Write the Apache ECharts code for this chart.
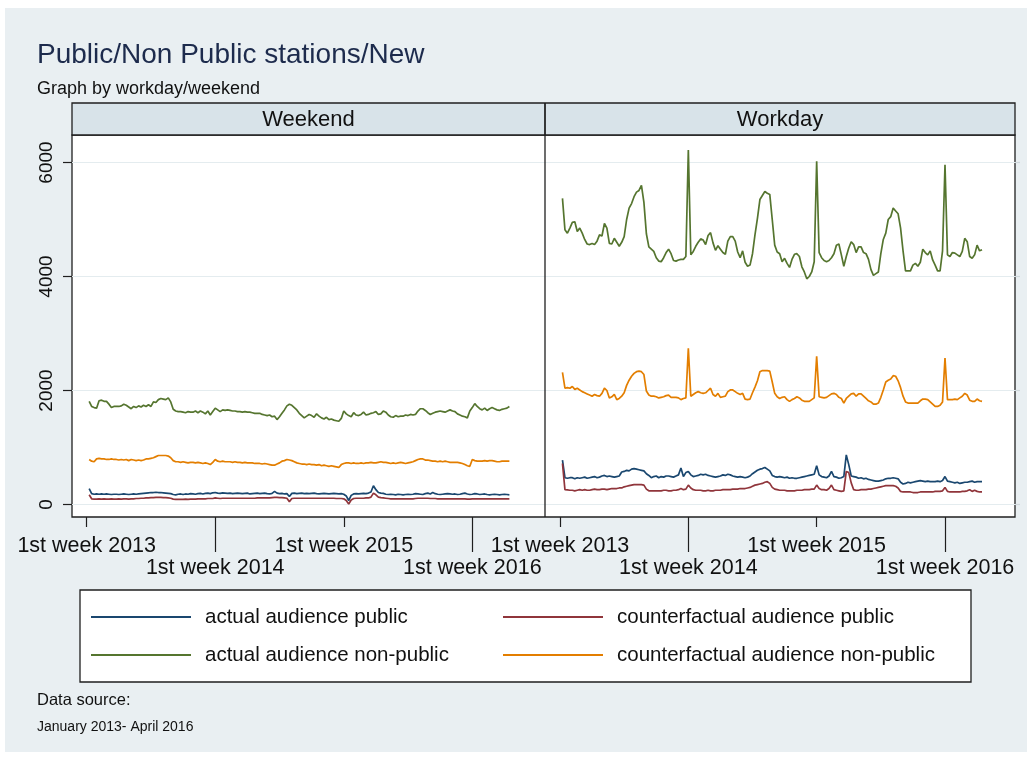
<!DOCTYPE html>
<html>
<head>
<meta charset="utf-8">
<title>Public/Non Public stations/New</title>
<script src="https://cdn.jsdelivr.net/npm/echarts@6/dist/echarts.min.js"></script>
<style>
  html, body { margin: 0; padding: 0; background: #ffffff; }
  #chart { width: 1032px; height: 757px; }
</style>
</head>
<body>
<div id="chart"></div>
<script>
// ---- data -------------------------------------------------------------
const seriesNames = [
  'actual audience public',
  'counterfactual audience public',
  'actual audience non-public',
  'counterfactual audience non-public'
];
const panelNames = ['Weekend', 'Workday'];
const tickWeeks = [0, 52, 104, 156];
const tickLabels = ['1st week 2013', '1st week 2014', '1st week 2015', '1st week 2016'];
const yTicks = [0, 2000, 4000, 6000];
const firstWeek = 1; // weeks counted from 1st week 2013 = 0

// Weekend panel
const weekendActualPublic = [
  280,190,180,185,180,185,180,185,180,175,
  180,180,175,180,185,180,175,180,185,180,
  185,190,195,200,205,210,210,215,210,210,
  205,200,195,190,175,170,180,185,175,185,
  180,190,185,180,190,195,185,195,200,190,
  205,210,200,195,205,200,195,200,190,195,
  200,195,190,195,200,185,190,195,200,190,
  195,200,190,185,195,230,200,190,195,185,
  190,140,195,200,190,195,200,190,195,190,
  195,200,190,185,190,195,190,185,190,195,
  190,185,190,180,150,70,160,185,190,185,
  190,195,190,200,220,330,260,210,200,195,
  180,175,180,175,170,180,175,170,175,180,
  175,180,190,185,180,175,190,200,185,210,
  190,180,175,180,185,190,185,180,185,175,
  180,190,200,185,175,180,190,185,175,180,
  185,175,170,175,180,175,170,175,180,175,
  170
];
const weekendCfPublic = [
  170,100,95,95,100,95,100,95,95,100,
  95,95,100,95,100,100,95,100,100,105,
  105,110,110,115,115,120,120,125,125,125,
  120,120,115,110,95,90,90,90,90,95,
  90,95,95,95,100,100,100,100,105,105,
  105,115,110,105,110,110,110,110,110,110,
  110,110,110,110,110,110,110,110,115,115,
  115,115,115,115,120,125,125,120,120,115,
  110,50,105,110,110,110,110,110,110,110,
  110,110,110,110,110,110,110,110,110,110,
  105,105,105,100,70,10,80,105,110,110,
  110,110,115,115,130,200,170,130,120,115,
  110,105,100,100,100,100,100,100,100,100,
  100,100,105,110,110,110,110,110,105,105,
  105,100,100,100,100,100,100,100,100,100,
  100,100,100,95,95,100,100,100,100,100,
  100,100,100,100,100,100,100,100,100,100,
  100
];
const weekendActualNonPublic = [
  1810,1720,1700,1690,1820,1830,1810,1810,1760,1700,
  1720,1720,1720,1730,1760,1740,1710,1680,1720,1700,
  1730,1710,1740,1720,1750,1720,1800,1790,1840,1860,
  1850,1840,1870,1800,1670,1640,1630,1630,1620,1610,
  1630,1620,1620,1640,1610,1640,1620,1590,1640,1570,
  1630,1690,1660,1630,1660,1650,1660,1650,1640,1640,
  1630,1630,1620,1630,1620,1620,1610,1600,1600,1600,
  1580,1570,1560,1570,1540,1550,1490,1540,1600,1660,
  1730,1760,1740,1700,1660,1600,1560,1520,1550,1580,
  1560,1530,1590,1550,1520,1500,1530,1490,1500,1480,
  1470,1460,1510,1640,1590,1560,1540,1610,1570,1560,
  1580,1620,1570,1580,1600,1610,1630,1580,1590,1640,
  1620,1570,1540,1530,1560,1540,1550,1550,1570,1560,
  1580,1570,1580,1640,1680,1680,1650,1610,1580,1600,
  1620,1630,1640,1630,1620,1640,1660,1640,1630,1590,
  1570,1550,1540,1520,1640,1700,1770,1720,1680,1660,
  1690,1650,1680,1700,1680,1660,1650,1670,1680,1690,
  1720
];
const weekendCfNonPublic = [
  790,760,750,800,810,800,800,790,790,800,
  790,790,780,790,780,790,770,790,780,770,
  780,770,780,800,800,810,820,840,860,860,
  860,860,850,820,770,750,750,740,750,740,
  730,740,740,730,740,730,720,730,720,700,
  740,790,760,750,760,750,750,750,740,750,
  740,740,730,740,730,730,730,720,720,720,
  710,720,710,700,690,690,710,730,760,770,
  790,780,770,750,730,720,710,710,700,710,
  700,700,690,700,680,690,680,670,680,670,
  660,650,700,720,730,730,720,730,720,720,
  730,720,730,730,740,730,730,740,750,740,
  740,730,720,730,720,730,740,730,720,730,
  740,750,770,790,800,800,780,780,770,760,
  760,750,760,750,760,750,740,740,740,740,
  730,720,700,680,670,790,770,760,760,760,
  770,760,770,770,760,750,750,760,760,760,
  760
];

// Workday panel
const workdayActualPublic = [
  780,470,460,470,470,450,470,460,470,480,
  460,470,480,490,470,480,500,510,490,500,
  490,480,490,500,570,580,600,590,620,630,
  620,610,600,590,540,510,470,490,500,470,
  490,480,500,500,490,480,500,520,640,490,
  560,580,520,490,500,510,530,520,530,510,
  500,490,480,490,500,520,510,530,520,500,
  490,480,490,480,470,480,500,540,570,600,
  620,630,650,620,590,510,490,480,490,480,
  470,480,460,470,460,460,470,480,490,500,
  510,520,530,680,520,490,480,470,500,580,
  490,480,460,470,490,870,700,500,490,480,
  460,470,450,460,440,430,420,410,410,420,
  430,450,460,460,470,460,450,390,360,370,
  390,380,390,400,410,420,410,400,410,400,
  400,400,410,400,420,490,410,400,390,380,
  390,370,380,390,390,400,410,390,400,400,
  400
];
const workdayCfPublic = [
  720,260,255,250,250,240,250,260,250,260,
  250,250,260,270,260,260,270,270,260,270,
  280,280,280,290,290,310,320,330,340,350,
  350,350,350,340,270,240,240,240,240,240,
  240,250,250,240,240,250,250,260,280,260,
  270,340,290,260,250,250,250,240,240,250,
  240,240,250,250,250,260,260,260,260,270,
  270,270,280,280,280,290,300,320,340,350,
  360,370,390,400,370,300,270,260,250,250,
  250,240,240,240,240,250,250,250,260,260,
  260,270,270,340,280,260,260,250,280,340,
  260,250,240,230,240,580,560,380,260,250,
  250,260,260,260,270,270,280,290,300,310,
  320,330,330,330,330,320,290,230,220,220,
  220,220,210,210,210,220,220,220,220,220,
  220,230,230,230,240,300,230,220,220,220,
  220,220,230,230,240,260,230,250,230,220,
  220
];
const workdayActualNonPublic = [
  5370,4820,4760,4850,4950,4960,4790,4850,4760,4650,
  4570,4560,4580,4560,4620,4730,4710,4930,4850,4580,
  4570,4670,4600,4530,4600,4700,5000,5200,5280,5400,
  5480,5510,5600,5300,4750,4520,4480,4440,4330,4270,
  4260,4330,4420,4480,4400,4280,4270,4290,4300,4300,
  4350,6220,4380,4440,4530,4600,4660,4640,4560,4720,
  4770,4590,4460,4540,4480,4420,4390,4620,4700,4700,
  4620,4430,4330,4450,4250,4180,4200,4400,4730,5020,
  5350,5420,5490,5460,5440,5000,4550,4430,4400,4260,
  4320,4230,4160,4300,4390,4400,4350,4170,4080,3960,
  4000,4080,4260,6020,4420,4330,4280,4260,4280,4330,
  4400,4550,4570,4380,4180,4350,4500,4610,4560,4420,
  4520,4520,4420,4400,4300,4120,4020,4050,4080,4400,
  4650,4760,5000,5050,5200,5150,5100,4850,4450,4100,
  4100,4100,4200,4230,4180,4250,4480,4420,4380,4450,
  4290,4200,4100,4100,4450,5960,4380,4350,4420,4410,
  4380,4350,4440,4670,4610,4350,4320,4380,4550,4450,
  4470
];
const workdayCfNonPublic = [
  2320,2040,2050,2040,2070,2020,2040,2010,1980,1960,
  1940,1920,1900,1930,1910,1900,1950,2040,2000,1870,
  1890,1930,1840,1860,1900,1960,2090,2180,2250,2300,
  2330,2340,2330,2280,1990,1920,1900,1900,1890,1870,
  1880,1890,1910,1920,1880,1880,1880,1870,1840,1860,
  1870,2740,1900,1930,1960,1980,1960,1950,1960,2000,
  2040,1930,1900,1950,1880,1890,1900,1980,2010,2010,
  1980,1950,1930,1950,1850,1840,1850,1960,2060,2170,
  2330,2350,2350,2350,2340,2150,1950,1890,1860,1880,
  1890,1840,1810,1840,1860,1890,1870,1830,1810,1810,
  1810,1840,1870,2600,1890,1880,1870,1880,1910,1940,
  1950,1930,1880,1860,1780,1860,1900,1940,1950,1900,
  1940,1940,1900,1860,1820,1800,1760,1760,1780,1880,
  2010,2150,2180,2200,2260,2250,2170,2050,1900,1800,
  1780,1780,1780,1780,1780,1820,1850,1850,1840,1800,
  1760,1720,1720,1740,1800,2570,1840,1840,1840,1850,
  1840,1870,1900,1950,1920,1830,1810,1810,1850,1820,
  1810
];

const panelSeries = [
  [weekendActualPublic, weekendCfPublic, weekendActualNonPublic, weekendCfNonPublic],
  [workdayActualPublic, workdayCfPublic, workdayActualNonPublic, workdayCfNonPublic]
];

// ---- styling / layout ---------------------------------------------------
const FONT = '"Liberation Sans", Arial, Helvetica, sans-serif';
const lineColors = ['#1a476f', '#90353b', '#55752f', '#e37e00'];
const INK = '#111111';
const FRAME = '#1f1f1f';

// pixel geometry of the two panels (plot frame + first/last labelled tick)
const panels = [
  { x0: 72,  x1: 545,  tickA: 86.7, tickB: 472.3 },
  { x0: 545, x1: 1015, tickA: 560,  tickB: 945 }
];
const frameTop = 135, frameBottom = 517;
const stripTop = 103;
const zeroY = 504.5, topTickY = 162.5; // pixel rows of 0 and 6000

const grids = [], xAxes = [], yAxes = [], series = [];

panels.forEach((p, i) => {
  const pxPerWeek = (p.tickB - p.tickA) / (tickWeeks[3] - tickWeeks[0]);
  const xmin = tickWeeks[0] - (p.tickA - p.x0) / pxPerWeek;
  const xmax = tickWeeks[0] + (p.x1 - p.tickA) / pxPerWeek;

  grids.push({
    left: p.x0, width: p.x1 - p.x0,
    top: topTickY, height: zeroY - topTickY,
    containLabel: false
  });

  const rowA = [tickWeeks[0], tickWeeks[2]];
  const rowB = [tickWeeks[1], tickWeeks[3]];
  const labelOf = v => tickLabels[tickWeeks.indexOf(v)];
  const baseX = {
    gridIndex: i, type: 'value', min: xmin, max: xmax,
    position: 'bottom', offset: frameBottom - zeroY,
    axisLine: { show: false, onZero: false }, splitLine: { show: false }
  };
  xAxes.push(Object.assign({}, baseX, {
    axisTick: { show: true, customValues: rowA, length: 10, lineStyle: { color: FRAME, width: 1.2 } },
    axisLabel: { show: true, customValues: rowA, formatter: labelOf, margin: 18,
                 fontSize: 21.5, fontFamily: FONT, color: INK }
  }));
  xAxes.push(Object.assign({}, baseX, {
    axisTick: { show: true, customValues: rowB, length: 35, lineStyle: { color: FRAME, width: 1.2 } },
    axisLabel: { show: true, customValues: rowB, formatter: labelOf, margin: 40,
                 fontSize: 21.5, fontFamily: FONT, color: INK }
  }));

  yAxes.push({
    gridIndex: i, type: 'value', min: yTicks[0], max: yTicks[yTicks.length - 1],
    interval: yTicks[1] - yTicks[0], position: 'left',
    axisLine: { show: false, onZero: false },
    axisTick: { show: i === 0, length: 9, lineStyle: { color: FRAME, width: 1.2 } },
    axisLabel: { show: i === 0, rotate: 90, margin: 16, fontSize: 19, fontFamily: FONT, color: INK,
                 formatter: v => String(v) },
    splitLine: { show: true, lineStyle: { color: '#e4ecef', width: 1.2 } }
  });
  if (i === 1) {
    yAxes.push({
      gridIndex: i, type: 'value', min: yTicks[0], max: yTicks[yTicks.length - 1],
      interval: yTicks[1] - yTicks[0], position: 'right',
      axisLine: { show: false, onZero: false }, axisLabel: { show: false }, splitLine: { show: false },
      axisTick: { show: true, length: 5, lineStyle: { color: '#cfd8dc', width: 1.2 } }
    });
  }

  panelSeries[i].forEach((vals, s) => {
    series.push({
      name: seriesNames[s],
      type: 'line',
      xAxisIndex: i * 2,
      yAxisIndex: i === 0 ? 0 : 1,
      data: vals.map((v, k) => [firstWeek + k, v]),
      showSymbol: false,
      symbol: 'none',
      clip: false,
      silent: true,
      animation: false,
      z: 3,
      lineStyle: { color: lineColors[s], width: 1.7 },
      itemStyle: { color: lineColors[s] }
    });
  });
});

const legendCommon = {
  orient: 'vertical', top: 605, padding: 0, itemWidth: 100, itemHeight: 2, itemGap: 14,
  icon: 'rect', selectedMode: false,
  textStyle: { fontSize: 20.5, fontFamily: FONT, color: INK, lineHeight: 24, padding: [0, 0, 0, 9] }
};

const graphic = [
  // page background
  { type: 'rect', z: -20, shape: { x: 5, y: 8, width: 1022, height: 744 },
    style: { fill: '#e9eff2' } },
  // plot frames
  { type: 'rect', z: -10, shape: { x: panels[0].x0, y: frameTop, width: panels[1].x1 - panels[0].x0, height: frameBottom - frameTop },
    style: { fill: '#ffffff', stroke: FRAME, lineWidth: 1.3 } },
  { type: 'line', z: 5, shape: { x1: panels[0].x1, y1: stripTop, x2: panels[0].x1, y2: frameBottom },
    style: { stroke: FRAME, lineWidth: 1.3 } },
  // strip headers
  { type: 'rect', z: 4, shape: { x: panels[0].x0, y: stripTop, width: panels[1].x1 - panels[0].x0, height: frameTop - stripTop },
    style: { fill: '#d8e3e9', stroke: FRAME, lineWidth: 1.3 } },
  { type: 'line', z: 5, shape: { x1: panels[0].x1, y1: stripTop, x2: panels[0].x1, y2: frameTop },
    style: { stroke: FRAME, lineWidth: 1.3 } },
  // legend frame
  { type: 'rect', z: -5, shape: { x: 80, y: 590, width: 891, height: 92 },
    style: { fill: '#ffffff', stroke: FRAME, lineWidth: 1.3 } },
  // subtitle and notes
  { type: 'text', z: 6, left: 37, top: 80,
    style: { text: 'Graph by workday/weekend', font: '18px ' + FONT, fill: INK } },
  { type: 'text', z: 6, left: 37, top: 692,
    style: { text: 'Data source:', font: '16.5px ' + FONT, fill: INK } },
  { type: 'text', z: 6, left: 37, top: 720,
    style: { text: 'January 2013- April 2016', font: '14px ' + FONT, fill: INK } }
];
panels.forEach((p, i) => {
  graphic.push({
    type: 'text', z: 6,
    x: (p.x0 + p.x1) / 2, y: (stripTop + frameTop) / 2 + 1,
    style: { text: panelNames[i], font: '22px ' + FONT, fill: INK, align: 'center', verticalAlign: 'middle' }
  });
});

const option = {
  animation: false,
  backgroundColor: '#ffffff',
  title: {
    text: 'Public/Non Public stations/New',
    left: 32, top: 36,
    textStyle: { fontSize: 28, fontWeight: 'normal', fontFamily: FONT, color: '#1d2b4d' }
  },
  legend: [
    Object.assign({ left: 91, data: [seriesNames[0], seriesNames[2]] }, legendCommon),
    Object.assign({ left: 503, data: [seriesNames[1], seriesNames[3]] }, legendCommon)
  ],
  grid: grids,
  xAxis: xAxes,
  yAxis: yAxes,
  series: series,
  graphic: graphic
};

const chart = echarts.init(document.getElementById('chart'), null, { renderer: 'canvas' });
chart.setOption(option);
</script>
</body>
</html>
